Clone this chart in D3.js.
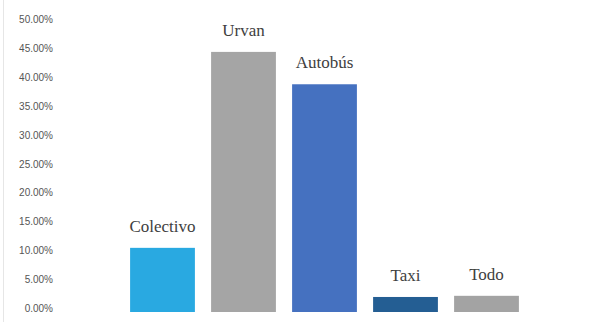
<!DOCTYPE html>
<html>
<head>
<meta charset="utf-8">
<script src="https://cdn.jsdelivr.net/npm/d3@7/dist/d3.min.js"></script>
<style>
  html, body { margin: 0; padding: 0; background: #fff; }
  svg { display: block; }
</style>
</head>
<body>
<svg id="chart" width="598" height="322"></svg>
<script>
// Share of trips by transport mode
const categories = ["Colectivo", "Urvan", "Autobús", "Taxi", "Todo"];
const shares = [11.1, 45.0, 39.4, 2.6, 2.8];
const colors = ["#29a9e1", "#a5a5a5", "#4571c0", "#245e93", "#a3a3a3"];
const tickValues = [0, 5, 10, 15, 20, 25, 30, 35, 40, 45, 50];

const svg = d3.select("#chart");

const y = d3.scaleLinear().domain([0, 50]).range([312, 23]);
const x = d3.scaleBand()
  .domain(categories)
  .range([122, 527])
  .paddingInner(0.2)
  .paddingOuter(0.1);

// faint frame edge on the left
svg.append("line")
  .attr("x1", 3.5).attr("x2", 3.5)
  .attr("y1", 0).attr("y2", 322)
  .attr("stroke", "#e6e6e6").attr("stroke-width", 1);

// value axis: labels only, no domain line or ticks
const yAxis = d3.axisLeft(y)
  .tickValues(tickValues)
  .tickSize(0)
  .tickPadding(0)
  .tickFormat(d => d3.format(".2f")(d) + "%");

svg.append("g")
  .attr("transform", "translate(53,0)")
  .call(yAxis)
  .call(g => g.select(".domain").remove())
  .call(g => g.selectAll("text")
    .style("font-family", "'Liberation Sans', Arial, sans-serif")
    .style("font-size", "10px")
    .attr("fill", "#555")
    .attr("dy", "-0.05em"));

// bars
svg.append("g")
  .selectAll("rect")
  .data(categories)
  .join("rect")
  .attr("x", d => x(d))
  .attr("width", x.bandwidth())
  .attr("y", (d, i) => y(shares[i]))
  .attr("height", (d, i) => y(0) - y(shares[i]))
  .attr("fill", (d, i) => colors[i]);

// category labels above each bar
svg.append("g")
  .selectAll("text")
  .data(categories)
  .join("text")
  .attr("x", d => x(d) + x.bandwidth() / 2)
  .attr("y", (d, i) => y(shares[i]) - 16)
  .attr("text-anchor", "middle")
  .style("font-family", "'Liberation Serif', 'Times New Roman', serif")
  .style("font-size", "17px")
  .attr("fill", "#404040")
  .text(d => d);
</script>
</body>
</html>
